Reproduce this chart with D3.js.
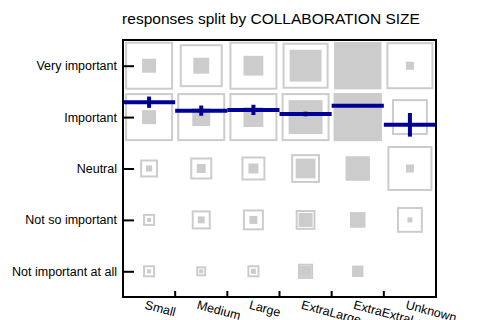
<!DOCTYPE html>
<html>
<head>
<meta charset="utf-8">
<script src="https://cdn.jsdelivr.net/npm/d3@7"></script>
<style>
  body { margin: 0; background: #fff; }
  text { font-family: "Liberation Sans", Arial, sans-serif; }
</style>
</head>
<body>
<svg width="483" height="320"></svg>
<script>
// collaboration sizes (columns) and answer levels (rows, top to bottom)
const sizes = ["Small", "Medium", "Large", "ExtraLarge", "ExtraExtraLarge", "Unknown"];
const levels = ["Very important", "Important", "Neutral", "Not so important", "Not important at all"];
const levelScore = [5, 4, 3, 2, 1];

// outer (open) square share per cell, rows follow levels
const outerShare = [
  [100, 80, 100, 92, 96, 96],
  [100, 100, 100, 100, 100, 56],
  [14, 21, 25, 36, 25, 88],
  [6.3, 15.7, 19, 17, 10, 29],
  [6.3, 4.3, 6.3, 10, 5.3, 0]
];
// inner (filled) square share per cell
const innerShare = [
  [8.5, 11, 17, 44, 96, 2.8],
  [8.5, 14, 17, 50, 100, 0.7],
  [1.6, 3.5, 4.3, 17, 25, 2.8],
  [0.7, 2.1, 2.8, 8.5, 10, 1.1],
  [0.7, 0.7, 1.1, 5.3, 5.3, 0]
];
// mean score per column and its error
const meanScore = [4.29, 4.125, 4.14, 4.06, 4.22, 3.85];
const meanErr = [0.11, 0.10, 0.10, 0.045, 0.0, 0.23];

const svg = d3.select("svg");
const plotL = 123, plotR = 436, plotT = 40, plotB = 297;

const x = d3.scaleBand().domain(sizes).range([plotL, plotR]).padding(0);
const y = d3.scaleLinear().domain([0.5, 5.5]).range([plotB, plotT]);
const side = d3.scaleSqrt().domain([0, 100]).range([0, 48]);

// cells
const cells = [];
levels.forEach((lv, i) => {
  sizes.forEach((s, j) => {
    cells.push({ size: s, score: levelScore[i], outer: outerShare[i][j], inner: innerShare[i][j] });
  });
});

const grid = svg.append("g");
grid.selectAll("rect.outer")
  .data(cells.filter(d => d.outer > 0))
  .join("rect")
  .attr("class", "outer")
  .attr("x", d => x(d.size) + x.bandwidth() / 2 - (side(d.outer) - 2) / 2)
  .attr("y", d => y(d.score) - (side(d.outer) - 2) / 2)
  .attr("width", d => Math.max(0, side(d.outer) - 2))
  .attr("height", d => Math.max(0, side(d.outer) - 2))
  .attr("fill", "none")
  .attr("stroke", "#cccccc")
  .attr("stroke-width", 2);

grid.selectAll("rect.inner")
  .data(cells.filter(d => d.inner > 0))
  .join("rect")
  .attr("class", "inner")
  .attr("x", d => x(d.size) + x.bandwidth() / 2 - side(d.inner) / 2)
  .attr("y", d => y(d.score) - side(d.inner) / 2)
  .attr("width", d => side(d.inner))
  .attr("height", d => side(d.inner))
  .attr("fill", "#cccccc");

// means
const means = sizes.map((s, j) => ({ size: s, m: meanScore[j], e: meanErr[j] }));
const blue = "#000096";
const mg = svg.append("g");
mg.selectAll("line.mean")
  .data(means)
  .join("line")
  .attr("class", "mean")
  .attr("x1", d => x(d.size))
  .attr("x2", d => x(d.size) + x.bandwidth())
  .attr("y1", d => y(d.m))
  .attr("y2", d => y(d.m))
  .attr("stroke", blue)
  .attr("stroke-width", 4);
mg.selectAll("line.err")
  .data(means.filter(d => d.e > 0))
  .join("line")
  .attr("class", "err")
  .attr("x1", d => x(d.size) + x.bandwidth() / 2)
  .attr("x2", d => x(d.size) + x.bandwidth() / 2)
  .attr("y1", d => y(d.m - d.e))
  .attr("y2", d => y(d.m + d.e))
  .attr("stroke", blue)
  .attr("stroke-width", 4);
mg.selectAll("circle")
  .data(means)
  .join("circle")
  .attr("cx", d => x(d.size) + x.bandwidth() / 2)
  .attr("cy", d => y(d.m))
  .attr("r", 1)
  .attr("fill", "#000");

// y axis
const yAxis = svg.append("g")
  .attr("transform", `translate(${plotL},0)`)
  .call(d3.axisLeft(y).tickValues(levelScore).tickFormat((d, i) => levels[i]).tickSize(-11).tickPadding(6));
yAxis.select(".domain").remove();
yAxis.selectAll(".tick line").attr("stroke", "#000").attr("stroke-width", 2);
yAxis.selectAll(".tick text").attr("font-size", 12.5).attr("fill", "#000")
  .attr("x", -6)
  .style("font-family", "'Liberation Sans', Arial, sans-serif");

// boundary ticks between columns
svg.append("g").selectAll("line")
  .data(sizes.slice(1))
  .join("line")
  .attr("x1", d => x(d))
  .attr("x2", d => x(d))
  .attr("y1", plotB)
  .attr("y2", plotB - 6)
  .attr("stroke", "#000")
  .attr("stroke-width", 2);

svg.append("g").selectAll("text")
  .data(sizes)
  .join("text")
  .attr("transform", d => `translate(${x(d) + x.bandwidth() / 2 - 5},${plotB + 11.5}) rotate(15)`)
  .attr("font-size", 12.5)
  .attr("fill", "#000")
  .text(d => d);

// frame
svg.append("rect")
  .attr("x", plotL)
  .attr("y", plotT)
  .attr("width", plotR - plotL)
  .attr("height", plotB - plotT)
  .attr("fill", "none")
  .attr("stroke", "#000")
  .attr("stroke-width", 2);

svg.append("text")
  .attr("x", 271)
  .attr("y", 24)
  .attr("text-anchor", "middle")
  .attr("font-size", 15.5)
  .attr("fill", "#000")
  .text("responses split by COLLABORATION SIZE");
</script>
</body>
</html>
